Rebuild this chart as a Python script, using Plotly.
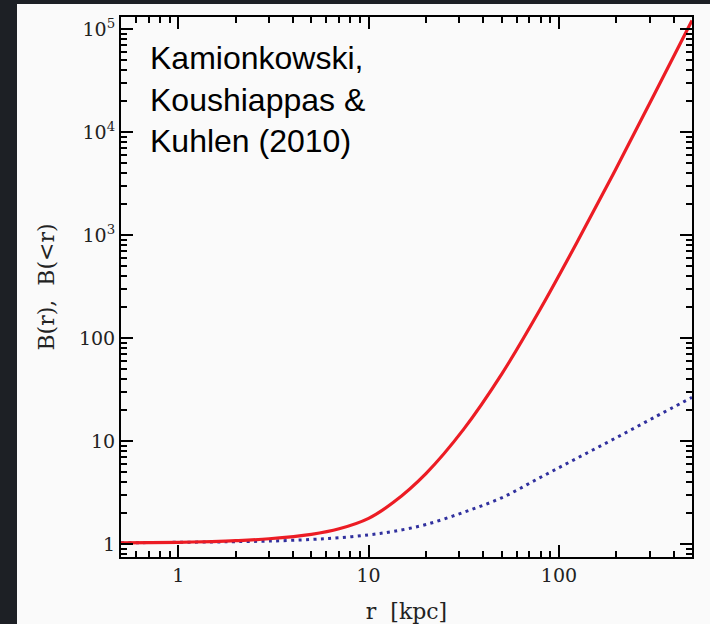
import numpy as np
import plotly.graph_objects as go

# Radius in kpc
r_kpc = [0.5, 0.7, 1, 1.5, 2, 3, 5, 7, 10, 13.5, 20, 31.6, 50, 79.4, 126, 200, 316, 500]

# Local boost B(r)
boost_local = [1.03, 1.035, 1.042, 1.06, 1.08, 1.127, 1.245, 1.41, 1.78, 2.55, 4.85,
               13.1, 44.8, 189.0, 893.0, 4480.0, 23200.0, 122000.0]

# Enclosed boost B(<r)
boost_enclosed = [1.03, 1.035, 1.042, 1.049, 1.057, 1.07, 1.11, 1.153, 1.23, 1.33, 1.55,
                  2.04, 2.82, 4.42, 6.92, 10.8, 17.0, 26.6]

y_tickvals = [1, 10, 100, 1000, 10000, 100000]
y_ticktext = ["1", "10", "100", "10<sup>3</sup>", "10<sup>4</sup>", "10<sup>5</sup>"]
x_tickvals = [1, 10, 100]
x_ticktext = ["1", "10", "100"]

annotation_text = "Kamionkowski,<br>Koushiappas &<br>Kuhlen (2010)"

W, H = 710, 624
ML, MR, MT, MB = 121, 18, 17, 67
PW, PH = W - ML - MR, H - MT - MB

panel_bg = "#fafafa"
outer_bg = "#1d2025"
tick_font = dict(family="DejaVu Serif", size=19, color="#222222")
title_font = dict(family="DejaVu Serif", size=22, color="#222222")


def minor_log(lo_exp, hi_exp):
    vals = []
    for e in range(lo_exp, hi_exp + 1):
        for m in range(2, 10):
            vals.append(m * 10.0 ** e)
    return vals


def px_x(px):
    return (px - ML) / PW


def px_y(py):
    return (H - MB - py) / PH


fig = go.Figure()

fig.add_trace(go.Scatter(
    x=r_kpc, y=boost_enclosed, mode="lines",
    line=dict(color="#30309e", width=3, dash="3px,4.4px", shape="spline", smoothing=1.0),
    showlegend=False, hoverinfo="skip",
))
fig.add_trace(go.Scatter(
    x=r_kpc, y=boost_local, mode="lines",
    line=dict(color="#ec1c24", width=3.2, shape="spline", smoothing=1.0),
    showlegend=False, hoverinfo="skip",
))

# dark frame strips along the left and top edges of the page
fig.add_shape(
    type="rect", xref="paper", yref="paper", layer="below",
    x0=px_x(-5), x1=px_x(17), y0=px_y(H + 5), y1=px_y(-5),
    fillcolor=outer_bg, line=dict(width=0),
)
fig.add_shape(
    type="rect", xref="paper", yref="paper", layer="below",
    x0=px_x(-5), x1=px_x(W + 5), y0=px_y(4), y1=px_y(-5),
    fillcolor=outer_bg, line=dict(width=0),
)

fig.add_annotation(
    text=annotation_text, xref="paper", yref="paper",
    x=px_x(148), y=px_y(38),
    xanchor="left", yanchor="top", align="left", showarrow=False,
    font=dict(family="Liberation Sans", size=32, color="#000000"),
)

axis_common = dict(
    type="log", showgrid=False, zeroline=False, automargin=False,
    showline=True, linecolor="#000000", linewidth=2,
    ticks="inside", ticklen=12, tickwidth=2, tickcolor="#000000",
    mirror="ticks", tickfont=tick_font,
)

fig.update_xaxes(
    **axis_common,
    range=[np.log10(0.5), np.log10(500)],
    tickvals=x_tickvals, ticktext=x_ticktext,
    minor=dict(tickvals=minor_log(-1, 2), ticks="inside", ticklen=6,
               tickwidth=1.6, tickcolor="#000000"),
    title=dict(text="r  [kpc]", font=title_font, standoff=20),
)
fig.update_yaxes(
    **axis_common,
    range=[-0.125, 5.12],
    tickvals=y_tickvals, ticktext=y_ticktext,
    minor=dict(tickvals=minor_log(-1, 5), ticks="inside", ticklen=6,
               tickwidth=1.6, tickcolor="#000000"),
    title=dict(text="B(r),  B(<r)", font=title_font, standoff=18),
)

fig.update_layout(
    width=W, height=H,
    margin=dict(l=ML, r=MR, t=MT, b=MB, pad=0),
    paper_bgcolor=panel_bg, plot_bgcolor=panel_bg,
    showlegend=False,
)

fig.write_html("out.html")
